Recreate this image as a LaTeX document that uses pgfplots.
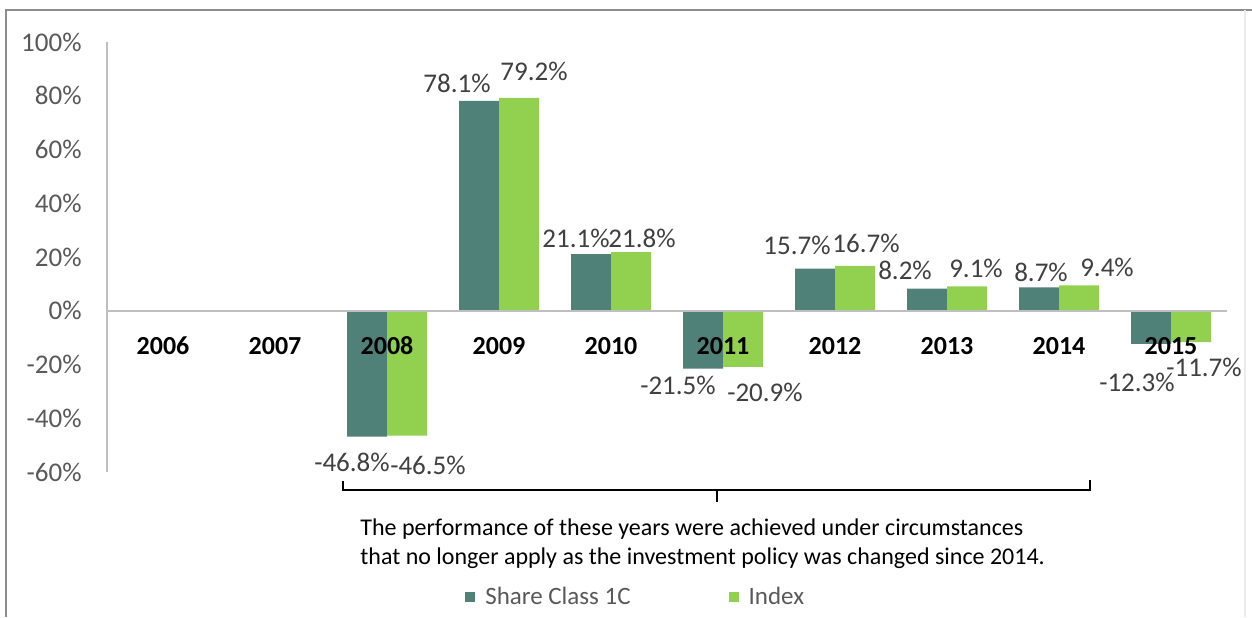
\documentclass[border=0pt]{standalone}
\usepackage{fontspec}
\setmainfont{Carlito}
\usepackage{pgfplots}
\pgfplotsset{compat=1.18}

\definecolor{shareclass}{HTML}{4F8178}
\definecolor{indexgreen}{HTML}{92D050}
\definecolor{ticktext}{HTML}{595959}
\definecolor{valtext}{HTML}{404040}
\definecolor{axisgray}{HTML}{BFBFBF}
\definecolor{framegray}{HTML}{8C8C8C}

\newcommand{\valfont}{\fontsize{13.5}{16}\selectfont}

\begin{document}
\begin{tikzpicture}
\path[use as bounding box] (0,0) rectangle (626pt,-308.5pt);

\begin{axis}[
  at={(53.5pt,-236pt)}, anchor=south west,
  scale only axis, width=560pt, height=215pt,
  ybar=0pt, bar width=20pt,
  xmin=-0.5, xmax=9.5, ymin=-60, ymax=100,
  axis x line*=middle, axis y line*=left,
  axis on top,
  hide obscured x ticks=false, hide obscured y ticks=false,
  axis line style={draw=axisgray, line width=0.8pt},
  major tick length=0pt,
  xtick={0,1,2,3,4,5,6,7,8,9},
  xticklabels={2006,2007,2008,2009,2010,2011,2012,2013,2014,2015},
  xticklabel style={anchor=center, yshift=-17.5pt, text=black,
    font=\fontsize{13}{15}\selectfont\bfseries},
  ytick={-60,-40,-20,0,20,40,60,80,100},
  yticklabels={-60\%,-40\%,-20\%,0\%,20\%,40\%,60\%,80\%,100\%},
  yticklabel style={anchor=east, inner sep=0pt, xshift=-12.5pt, text=ticktext,
    font=\fontsize{13.5}{16}\selectfont},
  clip=false,
  legend columns=2,
  legend image code/.code={\path[#1,draw=none] (0pt,-2.5pt) rectangle (5pt,2.5pt);},
  legend style={draw=none, fill=none, inner sep=0pt,
    at={(axis description cs:0.3196,-0.2907)}, anchor=west,
    nodes={inner sep=0pt, text=ticktext, font=\fontsize{12.5}{15}\selectfont},
    /tikz/every odd column/.append style={column sep=5pt},
    /tikz/every even column/.append style={column sep=49pt}},
]
\addplot[fill=shareclass, draw=none] coordinates
  {(2,-46.8) (3,78.1) (4,21.1) (5,-21.5) (6,15.7) (7,8.2) (8,8.7) (9,-12.3)};
\addplot[fill=indexgreen, draw=none] coordinates
  {(2,-46.5) (3,79.2) (4,21.8) (5,-20.9) (6,16.7) (7,9.1) (8,9.4) (9,-11.7)};
\legend{Share Class 1C, Index}
\end{axis}

% pixel grid of the reference, origin top left
\begin{scope}[x=0.5pt, y=-0.5pt]
  \draw[framegray, line width=1pt] (6,617) -- (6,10) -- (1252,10);
  \draw[black!8, line width=1pt] (1245,10) -- (1245,617);

  % value labels
  \begin{scope}[every node/.style={text=valtext, font=\valfont, inner sep=0pt}]
    \node at (352,462) {-46.8\%};
    \node at (428,465) {-46.5\%};
    \node at (457,83)  {78.1\%};
    \node at (534,71)  {79.2\%};
    \node at (576,238) {21.1\%};
    \node at (642,238) {21.8\%};
    \node at (678,385) {-21.5\%};
    \node at (765,392) {-20.9\%};
    \node at (797,245) {15.7\%};
    \node at (866,243) {16.7\%};
    \node at (905,270) {8.2\%};
    \node at (976,268) {9.1\%};
    \node at (1041,272) {8.7\%};
    \node at (1107,267) {9.4\%};
    \node at (1137,382) {-12.3\%};
    \node at (1204,367) {-11.7\%};
  \end{scope}

  % bracket over 2008-2014
  \draw[black, line width=1.2pt] (343,481) -- (343,490) -- (1090,490) -- (1090,480);
  \draw[black, line width=1.2pt] (717,490) -- (717,502);

  \node[anchor=base west, inner sep=0pt, font=\fontsize{12}{14.5}\selectfont]
    at (360,535) {The performance of these years were achieved under circumstances};
  \node[anchor=base west, inner sep=0pt, font=\fontsize{12}{14.5}\selectfont]
    at (360,564) {that no longer apply as the investment policy was changed since 2014.};
\end{scope}
\end{tikzpicture}
\end{document}
